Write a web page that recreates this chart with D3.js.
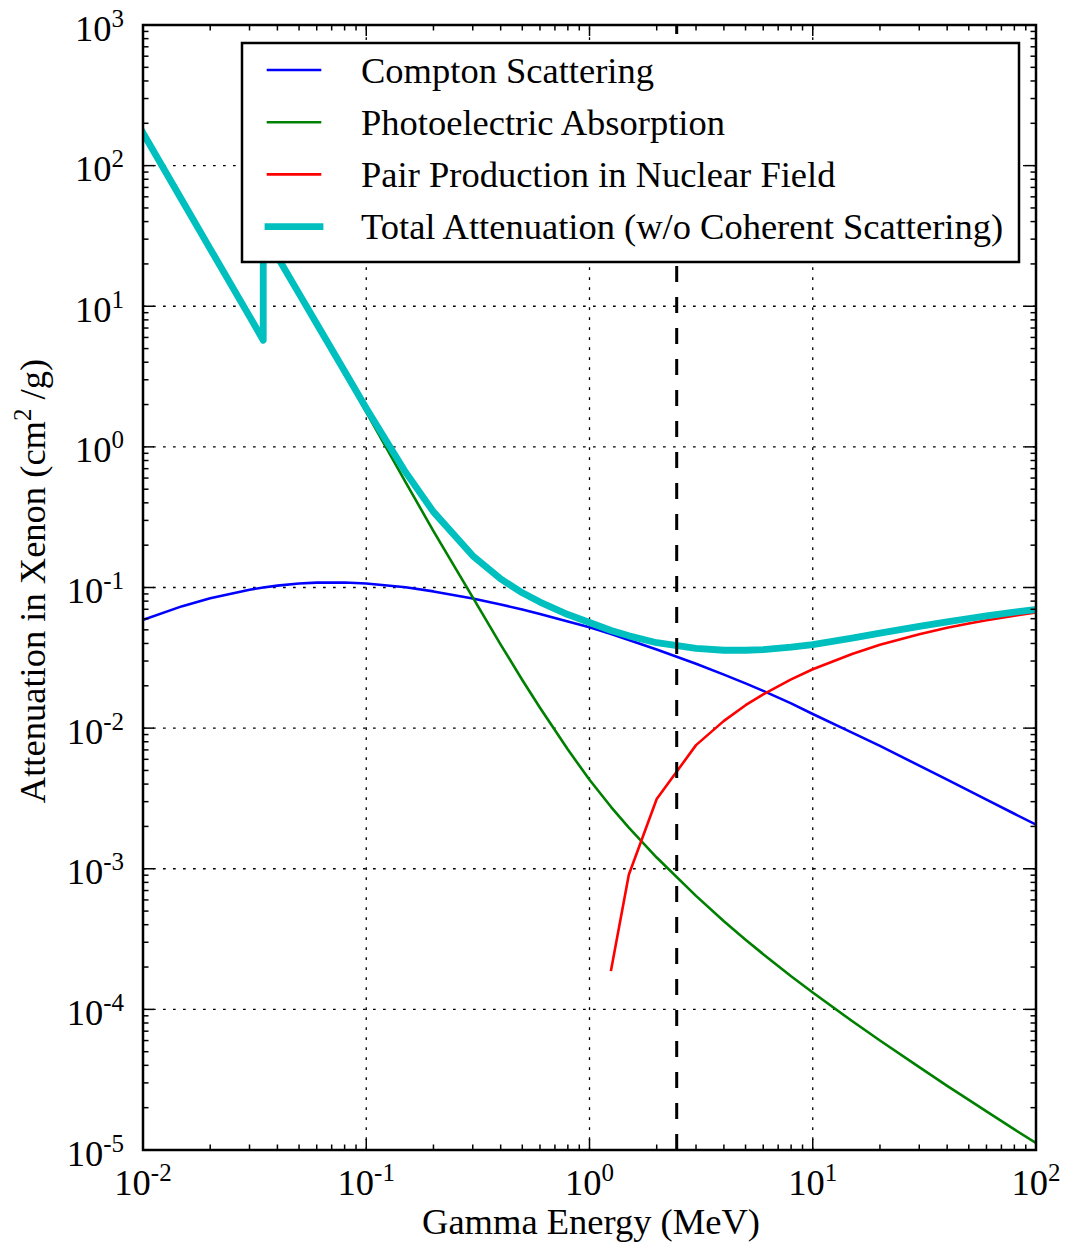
<!DOCTYPE html>
<html><head><meta charset="utf-8">
<script src="https://cdn.jsdelivr.net/npm/d3@7"></script>
<style>body{margin:0;background:#fff}</style>
</head><body><svg id="c" width="1066" height="1247" xmlns="http://www.w3.org/2000/svg"></svg>
<script>
// ---- data (MeV, cm^2/g) ----
const energy = [0.01, 0.015, 0.02, 0.03, 0.03456, 0.03456, 0.04, 0.05, 0.06, 0.08, 0.1, 0.15, 0.2, 0.3, 0.4, 0.5, 0.6, 0.8, 1.0, 1.25, 1.5, 2, 3, 4, 5, 6, 8, 10, 15, 20, 30, 40, 50, 60, 80, 100];
const compton = [0.0589, 0.0737, 0.0838, 0.0965, 0.0999, 0.0999, 0.1031, 0.1067, 0.1083, 0.1086, 0.1068, 0.1003, 0.0938, 0.0834, 0.0757, 0.0697, 0.0648, 0.0572, 0.0521, 0.0466, 0.0424, 0.0362, 0.0287, 0.0240, 0.0208, 0.0184, 0.0150, 0.0126, 0.00930, 0.00748, 0.00541, 0.00430, 0.00359, 0.00310, 0.00246, 0.00206];
const photo = [171, 56.2, 25.5, 8.37, 5.63, 33.4, 22.4, 12.2, 7.40, 3.34, 1.77, 0.561, 0.252, 0.085, 0.0393, 0.0220, 0.01396, 0.00704, 0.00429, 0.002746, 0.001959, 0.001202, 0.000641, 0.000423, 0.000313, 0.000247, 0.000172, 0.000132, 0.0000826, 0.0000601, 0.0000388, 0.0000286, 0.0000227, 0.0000188, 0.0000140, 0.0000112];
const pairNuclear = [null, null, null, null, null, null, null, null, null, null, null, null, null, null, null, null, null, null, null, 0.000191, 0.000906, 0.00313, 0.00757, 0.01126, 0.01455, 0.01740, 0.02222, 0.02621, 0.03370, 0.03913, 0.04658, 0.05166, 0.05548, 0.05851, 0.06305, 0.06637];
const total = [171, 56.3, 25.6, 8.47, 5.73, 33.5, 22.5, 12.3, 7.51, 3.45, 1.88, 0.661, 0.345, 0.168, 0.115, 0.0917, 0.0788, 0.0642, 0.0564, 0.0495, 0.0453, 0.0405, 0.0369, 0.0358, 0.0358, 0.0362, 0.0377, 0.0393, 0.0437, 0.0474, 0.0529, 0.0570, 0.0602, 0.0628, 0.0668, 0.0698];
const qValue = 2.458; // MeV, dashed marker
const xTickExps = [-2, -1, 0, 1, 2];
const yTickExps = [-5, -4, -3, -2, -1, 0, 1, 2, 3];
const seriesNames = ["Compton Scattering", "Photoelectric Absorption", "Pair Production in Nuclear Field", "Total Attenuation (w/o Coherent Scattering)"];
const seriesColors = ["#0000ff", "#008000", "#ff0000", "#00bfbf"];
const seriesWidths = [2.6, 2.6, 2.6, 6.8];
const seriesData = [compton, photo, pairNuclear, total];

// ---- layout ----
const W = 1066, H = 1247;
const L = 143, R = 1036, T = 25, B = 1150;
const font = '"Liberation Serif","Times New Roman",Times,serif';
const x = d3.scaleLog().domain([0.01, 100]).range([L, R]);
const y = d3.scaleLog().domain([1e-5, 1e3]).range([B, T]);

const svg = d3.select('#c');
svg.append('rect').attr('width', W).attr('height', H).attr('fill', '#fff');
svg.append('defs').append('clipPath').attr('id', 'clip')
  .append('rect').attr('x', L).attr('y', T).attr('width', R - L).attr('height', B - T);

// grid
const grid = svg.append('g').attr('stroke', '#000').attr('stroke-width', 1.3)
  .attr('stroke-dasharray', '2.7 7.3').attr('fill', 'none');
xTickExps.forEach(e => {
  const v = Math.pow(10, e);
  grid.append('line').attr('x1', x(v)).attr('x2', x(v)).attr('y1', B).attr('y2', T);
});
yTickExps.forEach(e => {
  const v = Math.pow(10, e);
  grid.append('line').attr('x1', L).attr('x2', R).attr('y1', y(v)).attr('y2', y(v));
});

// curves
const plot = svg.append('g').attr('clip-path', 'url(#clip)');
seriesData.forEach((vals, i) => {
  const pts = energy.map((e, k) => [e, vals[k]]);
  const line = d3.line().defined(d => d[1] != null).x(d => x(d[0])).y(d => y(d[1]));
  plot.append('path').attr('d', line(pts)).attr('fill', 'none')
    .attr('stroke', seriesColors[i]).attr('stroke-width', seriesWidths[i])
    .attr('stroke-linejoin', 'round').attr('stroke-linecap', 'square');
});
// dashed marker
plot.append('line').attr('x1', x(qValue)).attr('x2', x(qValue)).attr('y1', B).attr('y2', T)
  .attr('stroke', '#000').attr('stroke-width', 3).attr('stroke-dasharray', '16 15');

// ticks (inward, all four sides)
const ticks = svg.append('g').attr('stroke', '#000').attr('stroke-width', 1.5);
const isMajor = v => Math.abs(Math.log10(v) - Math.round(Math.log10(v))) < 1e-9;
x.ticks().forEach(v => {
  const len = isMajor(v) ? 11 : 5.5, px = x(v);
  ticks.append('line').attr('x1', px).attr('x2', px).attr('y1', B).attr('y2', B - len);
  ticks.append('line').attr('x1', px).attr('x2', px).attr('y1', T).attr('y2', T + len);
});
y.ticks().forEach(v => {
  const len = isMajor(v) ? 11 : 5.5, py = y(v);
  ticks.append('line').attr('x1', L).attr('x2', L + len).attr('y1', py).attr('y2', py);
  ticks.append('line').attr('x1', R).attr('x2', R - len).attr('y1', py).attr('y2', py);
});

// frame
svg.append('rect').attr('x', L).attr('y', T).attr('width', R - L).attr('height', B - T)
  .attr('fill', 'none').attr('stroke', '#000').attr('stroke-width', 2.5);

// tick labels
function powLabel(sel, exp) {
  sel.append('tspan').text('10');
  sel.append('tspan').attr('dy', -14).attr('font-size', 25).text(String(exp));
}
xTickExps.forEach(e => {
  const t = svg.append('text').attr('x', x(Math.pow(10, e))).attr('y', 1195)
    .attr('text-anchor', 'middle').attr('font-family', font).attr('font-size', 36.5).attr('fill', '#000');
  powLabel(t, e);
});
yTickExps.forEach(e => {
  const t = svg.append('text').attr('x', 124).attr('y', y(Math.pow(10, e)) + 15.5)
    .attr('text-anchor', 'end').attr('font-family', font).attr('font-size', 36.5).attr('fill', '#000');
  powLabel(t, e);
});

// axis labels
svg.append('text').attr('x', 591).attr('y', 1234).attr('text-anchor', 'middle')
  .attr('font-family', font).attr('font-size', 36.5).attr('fill', '#000').text('Gamma Energy (MeV)');
const yl = svg.append('text').attr('transform', 'translate(45,581) rotate(-90)')
  .attr('text-anchor', 'middle').attr('font-family', font).attr('font-size', 36.5).attr('fill', '#000');
yl.append('tspan').text('Attenuation in Xenon (cm');
yl.append('tspan').attr('dy', -14).attr('font-size', 25).text('2');
yl.append('tspan').attr('dy', 14).text(' /g)');

// legend
const lg = svg.append('g');
lg.append('rect').attr('x', 242).attr('y', 43).attr('width', 777).attr('height', 219)
  .attr('fill', '#fff').attr('stroke', '#000').attr('stroke-width', 2.5);
seriesNames.forEach((name, i) => {
  const ly = 70 + i * 52.2;
  lg.append('line').attr('x1', 268).attr('x2', 320).attr('y1', ly).attr('y2', ly)
    .attr('stroke', seriesColors[i]).attr('stroke-width', seriesWidths[i]).attr('stroke-linecap', 'square');
  lg.append('text').attr('x', 361).attr('y', ly + 12.5).attr('font-family', font)
    .attr('font-size', 36.5).attr('fill', '#000').text(name);
});
</script></body></html>
